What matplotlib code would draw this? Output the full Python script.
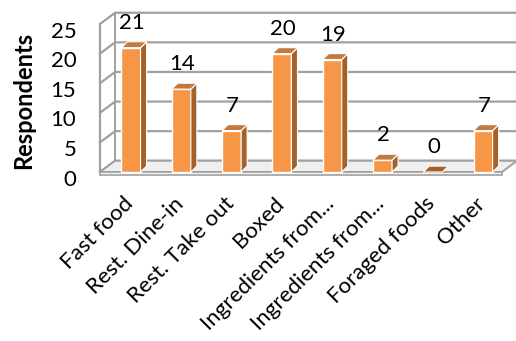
import matplotlib
matplotlib.use("Agg")
import matplotlib.pyplot as plt
from matplotlib.patches import Polygon, Rectangle
from matplotlib.transforms import ScaledTranslation

# data
categories = ["Fast food", "Rest. Dine-in", "Rest. Take out", "Boxed",
              "Ingredients from...", "Ingredients from...", "Foraged foods", "Other"]
values = [21, 14, 7, 20, 19, 2, 0, 7]
y_ticks = [0, 5, 10, 15, 20, 25]

plt.rcParams["font.family"] = ["Lato", "DejaVu Sans"]

FRONT = "#F79646"
SIDE = "#A5612A"
TOP = "#C47A3E"
GRID = "#A0A0A0"

fig = plt.figure(figsize=(5.16, 3.41), dpi=100)
ax = fig.add_axes([100 / 516, 169 / 341, 402 / 516, 148 / 341])
xl, xr = -0.616, 7.376
ax.set_xlim(xl, xr)
ax.set_ylim(0, 25)
for s in ax.spines.values():
    s.set_visible(False)
ax.patch.set_visible(False)

# 3d offsets (data units)
wdx, wdy = 0.30, 1.9     # walls
bdx, bdy = 0.12, 1.0     # bar depth
bw = 0.38

# floor
ax.add_patch(Polygon([(xl, 0), (xr, 0), (xr + wdx, wdy), (xl + wdx, wdy)],
                     closed=True, fc="#EFEFEF", ec=GRID, lw=1.4, clip_on=False, zorder=1))
ax.add_patch(Polygon([(xl, 0), (xr, 0), (xr, -0.45), (xl, -0.45)],
                     closed=True, fc="#F6F6F6", ec=GRID, lw=1.2, clip_on=False, zorder=1))

# walls / gridlines
for t in y_ticks:
    ax.plot([xl, xl + wdx, xr + 1], [t, t + wdy, t + wdy], color=GRID, lw=1.6,
            clip_on=False, zorder=0.5)
ax.plot([xl, xl], [0, 25], color=GRID, lw=1.6, clip_on=False, zorder=0.5)
ax.plot([xl + wdx, xl + wdx], [wdy, 25 + wdy], color=GRID, lw=1.4, clip_on=False, zorder=0.5)

# bars
for i, v in enumerate(values):
    x0, x1 = i - bw / 2, i + bw / 2
    if v > 0:
        ax.add_patch(Rectangle((x0, 0), bw, v, fc=FRONT, ec="white", lw=1.0,
                               clip_on=False, zorder=3))
        ax.add_patch(Polygon([(x1, 0), (x1 + bdx, bdy), (x1 + bdx, v + bdy), (x1, v)],
                             closed=True, fc=SIDE, ec="white", lw=0.8, clip_on=False, zorder=3))
    ax.add_patch(Polygon([(x0, v), (x1, v), (x1 + bdx, v + bdy), (x0 + bdx, v + bdy)],
                         closed=True, fc=TOP if v > 0 else SIDE, ec="white", lw=0.8,
                         clip_on=False, zorder=3))
    ax.annotate(str(v), (i + 0.02, v), xytext=(0, 13.5), textcoords="offset points",
                ha="center", va="baseline", fontsize=16, color="black")

ax.set_yticks(y_ticks)
ax.set_yticklabels([str(t) for t in y_ticks], fontsize=16)
ax.tick_params(axis="y", length=0, pad=17)
for lab in ax.get_yticklabels():
    lab.set_transform(lab.get_transform() + ScaledTranslation(0, -4 / 72, fig.dpi_scale_trans))

ax.set_xticks(range(len(categories)))
ax.set_xticklabels(categories, rotation=45, ha="right", va="top",
                   rotation_mode="anchor", fontsize=16)
ax.tick_params(axis="x", length=0, pad=19)
for lab in ax.get_xticklabels():
    lab.set_transform(lab.get_transform() + ScaledTranslation(-0.08, 0.05, fig.dpi_scale_trans))

ax.set_ylabel("Respondents", fontsize=17, fontweight="bold")
ax.yaxis.set_label_coords(-0.162, 0.486)

fig.savefig("out.png", dpi=100)
